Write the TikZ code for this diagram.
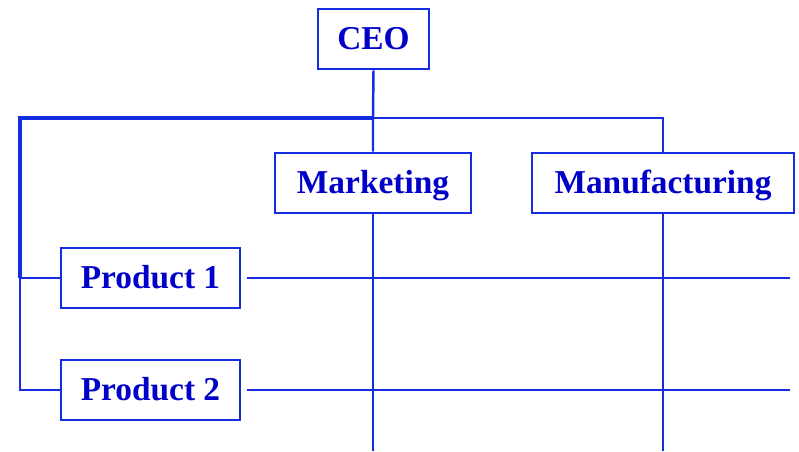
\documentclass[tikz,border=0pt]{standalone}
\usepackage{fontspec}
\setmainfont{Liberation Serif}
\usepackage{tikz}
\usetikzlibrary{positioning}
\definecolor{orgblue}{RGB}{20,45,225}
\definecolor{orgtext}{RGB}{0,0,200}

\begin{document}
\begin{tikzpicture}[x=0.02cm,y=-0.02cm,
  unit/.style={draw=orgblue,line width=1.6pt,text=orgtext,
    font=\fontsize{19}{22}\selectfont\bfseries,minimum height=1.2cm,inner sep=0pt,
    text height=12.5pt,text depth=0pt},
  link/.style={orgblue,line width=1.4pt},
  mainlink/.style={orgblue,line width=2pt}]
\useasboundingbox (0,0) rectangle (799,451);
\node[unit,minimum width=2.22cm] (ceo) at (373.5,39) {CEO};
\node[unit,minimum width=3.92cm] (mkt) at (373,183) {Marketing};
\node[unit,minimum width=5.24cm] (mfg) at (663,183) {Manufacturing};
\node[unit,minimum width=3.58cm] (pr1) at (150.5,278) {Product 1};
\node[unit,minimum width=3.58cm] (pr2) at (150.5,390) {Product 2};
% bus under the CEO
\coordinate (bus) at (373,118);
\coordinate (busL) at (20,118);
\coordinate (busR) at (663,118);
\coordinate (bend1) at (20,278);
\coordinate (bend2) at (20,390);
\draw[link] (ceo.south) -- (bus) -- (mkt.north);
\draw[link] (bus) -- (busR) -- (mfg.north);
\draw[mainlink,line join=miter] (bus) -- (busL) -- (bend1);
\draw[link] (bend1) -- (bend2) -- (pr2.west);
\draw[link] (bend1) -- (pr1.west);
% matrix lines
\coordinate (mktEnd) at (373,451);
\coordinate (mfgEnd) at (663,451);
\coordinate (pr1End) at (790,278);
\coordinate (pr2End) at (790,390);
\draw[link] (mkt.south) -- (mktEnd);
\draw[link] (mfg.south) -- (mfgEnd);
\draw[link] ([xshift=0.12cm]pr1.east) -- (pr1End);
\draw[link] ([xshift=0.12cm]pr2.east) -- (pr2End);
\end{tikzpicture}
\end{document}
